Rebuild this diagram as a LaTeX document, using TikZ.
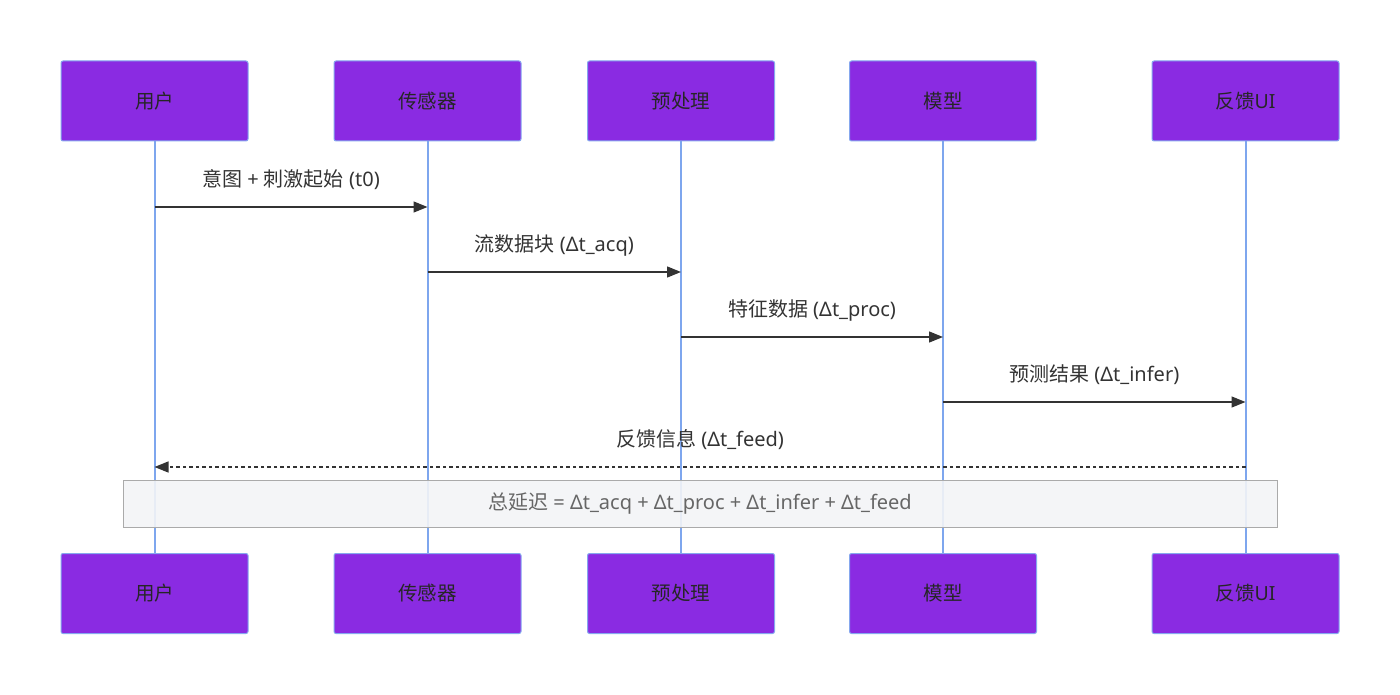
\documentclass[tikz,border=0pt]{standalone}
\usepackage{fontspec}
\setmainfont{Noto Sans}
\newfontfamily\cjk{Noto Sans CJK SC}
\usepackage{tikz}
\usetikzlibrary{arrows.meta}
\definecolor{actorfill}{HTML}{8A2BE2}
\definecolor{actorline}{HTML}{86A8EE}
\definecolor{lifeline}{HTML}{7EA6EE}
\definecolor{msgline}{HTML}{333333}
\definecolor{notefill}{HTML}{F3F4F6}
\definecolor{noteline}{HTML}{AAAAAA}
\definecolor{notetext}{HTML}{666666}

\begin{document}
\begin{tikzpicture}[x=1pt,y=-1pt,
actor/.style={draw=actorline,fill=actorfill,line width=1pt,rounded corners=2pt,
  minimum width=187pt,minimum height=80pt,inner sep=0pt,text=black!85,font=\fontsize{19.5}{22}\selectfont},
life/.style={draw=lifeline,line width=2pt},
msg/.style={draw=msgline,line width=1.4pt,-{Triangle[length=14pt,width=11pt]}},
reply/.style={msg,dash pattern=on 3.5pt off 3pt},
lbl/.style={text=msgline,font=\fontsize{20}{22}\selectfont,yshift=27pt},
note/.style={draw=noteline,fill=notefill,fill opacity=0.9,text opacity=1,line width=1pt,
  minimum width=1154pt,minimum height=47pt,text=notetext,font=\fontsize{20}{22}\selectfont}
]
\useasboundingbox (0,0) rectangle (1400,695);
% actors, top and bottom, with their lifelines
\foreach \n/\t/\x in {u/{\cjk 用户}/154.5,s/{\cjk 传感器}/427.5,p/{\cjk 预处理}/681,m/{\cjk 模型}/943,f/{\cjk 反馈}UI/1245.5}{
  \node[actor] (\n) at (\x,101) {\t};
  \node[actor] (\n-b) at (\x,593.5) {\t};
  \draw[life] (\n.south) -- (\n-b.north);
}
% messages
\draw[msg] (u |- 0,207) -- (s |- 0,207) node[lbl,midway] (l1) {{\cjk 意图} + {\cjk 刺激起始} (t0)};
\draw[msg] (s |- 0,272) -- (p |- 0,272) node[lbl,midway] (l2) {{\cjk 流数据块} (Δt\_acq)};
\draw[msg] (p |- 0,337) -- (m |- 0,337) node[lbl,midway] (l3) {{\cjk 特征数据} (Δt\_proc)};
\draw[msg] (m |- 0,402) -- (f |- 0,402) node[lbl,midway] (l4) {{\cjk 预测结果} (Δt\_infer)};
\draw[reply] (f |- 0,467) -- (u |- 0,467) node[lbl,midway] (l5) {{\cjk 反馈信息} (Δt\_feed)};
% note over all
\node[note] (total) at (700,503.5) {{\cjk 总延迟} = Δt\_acq + Δt\_proc + Δt\_infer + Δt\_feed};
\end{tikzpicture}
\end{document}
